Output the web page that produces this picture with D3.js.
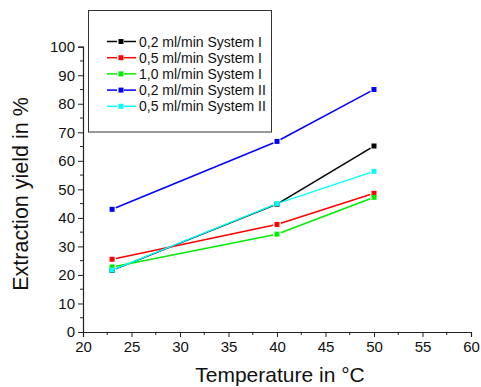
<!DOCTYPE html>
<html>
<head>
<meta charset="utf-8">
<script src="https://cdn.jsdelivr.net/npm/d3@7"></script>
<style>
  body { margin: 0; background: #fff; }
  svg { font-family: "Liberation Sans", Arial, sans-serif; }
</style>
</head>
<body>
<script>
// data
var temperatures = [23, 40, 50];
var seriesNames = ['0,2 ml/min System I', '0,5 ml/min System I', '1,0 ml/min System I', '0,2 ml/min System II', '0,5 ml/min System II'];
var seriesColors = ['#000000', '#ff0000', '#00ee00', '#0000ff', '#00ffff'];
var sys1_02 = [21.6, 44.8, 65.2];
var sys1_05 = [25.5, 37.7, 48.6];
var sys1_10 = [22.8, 34.3, 47.2];
var sys2_02 = [43.0, 66.8, 85.0];
var sys2_05 = [21.7, 45.0, 56.3];
var xTicks = [20, 25, 30, 35, 40, 45, 50, 55, 60];
var yTicks = [0, 10, 20, 30, 40, 50, 60, 70, 80, 90, 100];

var seriesValues = [sys1_02, sys1_05, sys1_10, sys2_02, sys2_05];

var width = 481, height = 387;
var svg = d3.select(document.body).append('svg').attr('width', width).attr('height', height);

var x = d3.scaleLinear().domain([20, 60]).range([83, 471]);
var y = d3.scaleLinear().domain([0, 100]).range([332, 46.7]);

// axes
var xAxis = svg.append('g').attr('transform', 'translate(0,' + y(0) + ')')
  .call(d3.axisBottom(x).tickValues(xTicks).tickSize(5).tickPadding(4));
xAxis.append('g').selectAll('line')
  .data(d3.range(22.5, 60, 5)).enter().append('line')
  .attr('x1', function (d) { return x(d); }).attr('x2', function (d) { return x(d); })
  .attr('y1', 0).attr('y2', 3).attr('stroke', '#222');

var yAxis = svg.append('g').attr('transform', 'translate(' + x(20) + ',0)')
  .call(d3.axisLeft(y).tickValues(yTicks).tickSize(5).tickPadding(3));
yAxis.append('g').selectAll('line')
  .data(d3.range(5, 100, 10)).enter().append('line')
  .attr('y1', function (d) { return y(d); }).attr('y2', function (d) { return y(d); })
  .attr('x1', 0).attr('x2', -3).attr('stroke', '#222');

svg.selectAll('.domain').attr('stroke', '#222').attr('stroke-width', 1.2);
svg.selectAll('.tick line').attr('stroke', '#222');
svg.selectAll('.tick text').attr('font-size', 15).attr('fill', '#111')
  .attr('font-family', '"Liberation Sans", Arial, sans-serif');

// axis titles
svg.append('text').attr('x', 280).attr('y', 381.5).attr('text-anchor', 'middle')
  .attr('font-size', 21).attr('fill', '#111').text('Temperature in °C');
svg.append('text').attr('transform', 'translate(28,194) rotate(-90)').attr('text-anchor', 'middle')
  .attr('font-size', 21.5).attr('fill', '#111').text('Extraction yield in %');

// series: segments with small gaps next to the markers
var gap = 4;
seriesValues.forEach(function (vals, s) {
  var pts = temperatures.map(function (t, i) { return [x(t), y(vals[i])]; });
  var g = svg.append('g');
  for (var i = 0; i < pts.length - 1; i++) {
    var a = pts[i], b = pts[i + 1];
    var dx = b[0] - a[0], dy = b[1] - a[1], len = Math.sqrt(dx * dx + dy * dy);
    var ux = dx / len, uy = dy / len;
    g.append('line')
      .attr('x1', a[0] + ux * gap).attr('y1', a[1] + uy * gap)
      .attr('x2', b[0] - ux * gap).attr('y2', b[1] - uy * gap)
      .attr('stroke', seriesColors[s]).attr('stroke-width', 1.5);
  }
  g.selectAll('rect').data(pts).enter().append('rect')
    .attr('x', function (d) { return d[0] - 2.5; }).attr('y', function (d) { return d[1] - 2.5; })
    .attr('width', 5).attr('height', 5).attr('fill', seriesColors[s]);
});

// legend
var legend = svg.append('g');
legend.append('rect').attr('x', 88.5).attr('y', 10.5).attr('width', 183).attr('height', 121.5)
  .attr('fill', '#fff').attr('stroke', '#333').attr('stroke-width', 1);
seriesNames.forEach(function (name, i) {
  var ly = 41.5 + i * 16.2;
  var c = seriesColors[i];
  legend.append('line').attr('x1', 107).attr('x2', 117).attr('y1', ly).attr('y2', ly)
    .attr('stroke', c).attr('stroke-width', 1.5);
  legend.append('line').attr('x1', 124).attr('x2', 136).attr('y1', ly).attr('y2', ly)
    .attr('stroke', c).attr('stroke-width', 1.5);
  legend.append('rect').attr('x', 118.5).attr('y', ly - 2.5).attr('width', 5).attr('height', 5).attr('fill', c);
  legend.append('text').attr('x', 139).attr('y', ly + 5).attr('font-size', 14).attr('fill', '#111').text(name);
});
</script>
</body>
</html>
